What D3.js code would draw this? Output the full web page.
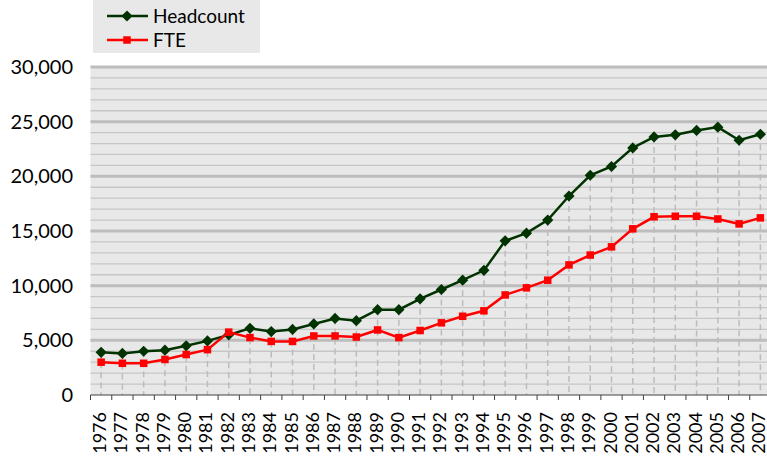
<!DOCTYPE html>
<html>
<head>
<meta charset="utf-8">
<script src="https://cdn.jsdelivr.net/npm/d3@7"></script>
<style>
  body { margin: 0; background: #fff; }
  svg { display: block; font-family: Lato, "DejaVu Sans", sans-serif; }
</style>
</head>
<body>
<svg id="chart" width="767" height="456"></svg>
<script>
// years on the x axis
const years = d3.range(1976, 2008).map(String);

// headcount per year
const headcount = [3900, 3800, 4000, 4100, 4500, 4950, 5500, 6100, 5800, 6000,
  6500, 7000, 6800, 7800, 7800, 8800, 9650, 10500, 11400, 14100,
  14800, 16000, 18200, 20100, 20900, 22600, 23600, 23800, 24200, 24500,
  23300, 23850];

// full time equivalents per year
const fte = [3000, 2900, 2900, 3250, 3700, 4150, 5750, 5250, 4900, 4900,
  5400, 5400, 5300, 5950, 5250, 5900, 6600, 7200, 7700, 9150,
  9800, 10500, 11900, 12800, 13550, 15200, 16300, 16350, 16350, 16100,
  15650, 16200];

const yTicks = [0, 5000, 10000, 15000, 20000, 25000, 30000];

const plotLeft = 90.5, plotRight = 771, plotTop = 67, plotBottom = 395;

const svg = d3.select("#chart");

const x = d3.scaleBand().domain(years).range([plotLeft, plotRight]);
const y = d3.scaleLinear().domain([0, 30000]).range([plotBottom, plotTop]);
const cx = d => x(d) + x.bandwidth() / 2;

// plot background
svg.append("rect")
  .attr("x", plotLeft).attr("y", plotTop)
  .attr("width", plotRight - plotLeft).attr("height", plotBottom - plotTop)
  .attr("fill", "#e8e8e8");

// minor gridlines
svg.append("g").selectAll("line")
  .data(d3.range(1000, 30000, 1000).filter(v => v % 5000 !== 0))
  .join("line")
  .attr("x1", plotLeft).attr("x2", plotRight)
  .attr("y1", d => y(d)).attr("y2", d => y(d))
  .attr("stroke", "#c6c6c6").attr("stroke-width", 1.3);

// major gridlines
svg.append("g").selectAll("line")
  .data(yTicks.filter(v => v > 0))
  .join("line")
  .attr("x1", plotLeft).attr("x2", plotRight)
  .attr("y1", d => y(d)).attr("y2", d => y(d))
  .attr("stroke", "#bdbdbd").attr("stroke-width", 3);

// drop lines from the highest point to the axis
svg.append("g").selectAll("line")
  .data(years)
  .join("line")
  .attr("x1", cx).attr("x2", cx)
  .attr("y1", (d, i) => y(Math.max(headcount[i], fte[i])))
  .attr("y2", plotBottom)
  .attr("stroke", "#bcbcbc").attr("stroke-width", 1.5)
  .attr("stroke-dasharray", "6,4");

// x axis
const xAxis = svg.append("g").attr("transform", `translate(0,${plotBottom})`);
xAxis.append("line")
  .attr("x1", plotLeft).attr("x2", plotRight)
  .attr("stroke", "#404040").attr("stroke-width", 1);
xAxis.selectAll(".tk")
  .data(years.concat(["end"]))
  .join("line")
  .attr("class", "tk")
  .attr("x1", (d, i) => plotLeft + i * x.bandwidth())
  .attr("x2", (d, i) => plotLeft + i * x.bandwidth())
  .attr("y1", 0).attr("y2", 5)
  .attr("stroke", "#404040");
xAxis.selectAll("text")
  .data(years)
  .join("text")
  .attr("transform", d => `translate(${cx(d) + 5},17) rotate(-90)`)
  .attr("text-anchor", "end")
  .attr("font-size", 18)
  .attr("fill", "#000")
  .text(d => d);

// y labels
svg.append("g").selectAll("text")
  .data(yTicks)
  .join("text")
  .attr("x", 73).attr("y", d => y(d) + 7)
  .attr("text-anchor", "end")
  .attr("font-size", 20)
  .attr("fill", "#000")
  .text(d3.format(",d"));

// series
const series = [
  { name: "Headcount", values: headcount, color: "#003300", shape: d3.symbolDiamond2, size: 80 },
  { name: "FTE", values: fte, color: "#ff0000", shape: d3.symbolSquare2, size: 72 }
];

series.forEach(s => {
  const line = d3.line().x((d, i) => cx(years[i])).y(d => y(d));
  svg.append("path")
    .datum(s.values)
    .attr("d", line)
    .attr("fill", "none")
    .attr("stroke", s.color)
    .attr("stroke-width", 2.5);
  svg.append("g").selectAll("path")
    .data(s.values)
    .join("path")
    .attr("transform", (d, i) => `translate(${cx(years[i])},${y(d)})`)
    .attr("d", d3.symbol(s.shape, s.size)())
    .attr("fill", s.color);
});

// legend
const legend = svg.append("g");
legend.append("rect")
  .attr("x", 93).attr("y", 0).attr("width", 167).attr("height", 53)
  .attr("fill", "#e8e8e8");
series.forEach((s, i) => {
  const ly = 16 + i * 24;
  legend.append("line")
    .attr("x1", 107).attr("x2", 148).attr("y1", ly).attr("y2", ly)
    .attr("stroke", s.color).attr("stroke-width", 2.5);
  legend.append("path")
    .attr("transform", `translate(127,${ly})`)
    .attr("d", d3.symbol(s.shape, s.size)())
    .attr("fill", s.color);
  legend.append("text")
    .attr("x", 153).attr("y", ly + 7)
    .attr("font-size", 19)
    .attr("fill", "#000")
    .text(s.name);
});
</script>
</body>
</html>
